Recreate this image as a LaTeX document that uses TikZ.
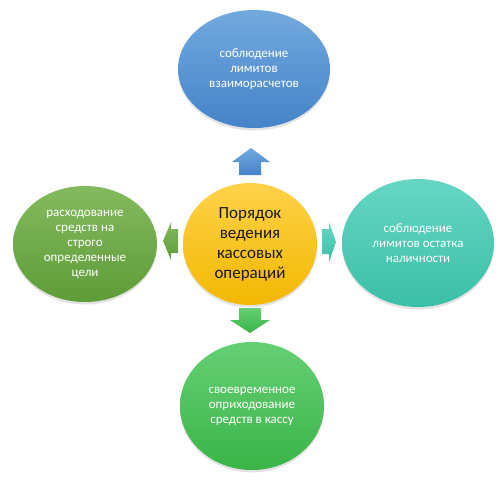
\documentclass[tikz,border=0pt]{standalone}
\usepackage{fontspec}
\setmainfont{Carlito}
\usetikzlibrary{shapes.geometric,shadows}
\definecolor{bluetop}{HTML}{72A9DE}
\definecolor{bluebot}{HTML}{4583C9}
\definecolor{goldtop}{HTML}{FFD24A}
\definecolor{goldbot}{HTML}{F2B800}
\definecolor{lgtop}{HTML}{84BA5F}
\definecolor{lgbot}{HTML}{5E9C38}
\definecolor{tealtop}{HTML}{66D6C3}
\definecolor{tealbot}{HTML}{3CBFA7}
\definecolor{gtop}{HTML}{66CF74}
\definecolor{gbot}{HTML}{3AB448}
\tikzset{
  bubble/.style={ellipse, inner sep=0pt, align=center, text=white,
    font=\fontsize{13}{15}\selectfont,
    drop shadow={opacity=0.22, shadow xshift=0pt, shadow yshift=-2.5pt}}
}
\begin{document}
\begin{tikzpicture}[x=1pt,y=-1pt]
\useasboundingbox (0,0) rectangle (502,485);
% ellipses
\node[bubble, minimum width=152pt, minimum height=118pt, top color=bluetop, bottom color=bluebot] (top) at (254,69) {соблюдение\\лимитов\\взаиморасчетов};
\node[bubble, minimum width=144pt, minimum height=116pt, top color=lgtop, bottom color=lgbot] (left) at (85,244) {расходование\\средств на\\строго\\определенные\\цели};
\node[bubble, minimum width=152pt, minimum height=128pt, top color=tealtop, bottom color=tealbot] (right) at (418,243) {соблюдение\\лимитов остатка\\наличности};
\node[bubble, minimum width=144pt, minimum height=128pt, top color=gtop, bottom color=gbot] (bottom) at (252,406) {своевременное\\оприходование\\средств в кассу};
\node[bubble, minimum width=134pt, minimum height=122pt, top color=goldtop, bottom color=goldbot, text=black!90, font=\fontsize{17}{20}\selectfont] (center) at (250,244) {Порядок\\ведения\\кассовых\\операций};
% arrows
\shade[top color=bluetop, bottom color=bluebot] (251,148) -- (270,162) -- (261,162) -- (261,175) -- (239,175) -- (239,162) -- (232,162) -- cycle;
\shade[top color=gtop, bottom color=gbot] (239,308) -- (261,308) -- (261,320) -- (270,320) -- (250,333) -- (230,320) -- (239,320) -- cycle;
\shade[top color=lgtop, bottom color=lgbot] (163,241) -- (171,222) -- (171,229) -- (178,229) -- (178,253) -- (171,253) -- (171,260) -- cycle;
\shade[top color=tealtop, bottom color=tealbot] (322,229) -- (329,229) -- (329,222) -- (336,242) -- (329,262) -- (329,254) -- (322,254) -- cycle;
\end{tikzpicture}
\end{document}
